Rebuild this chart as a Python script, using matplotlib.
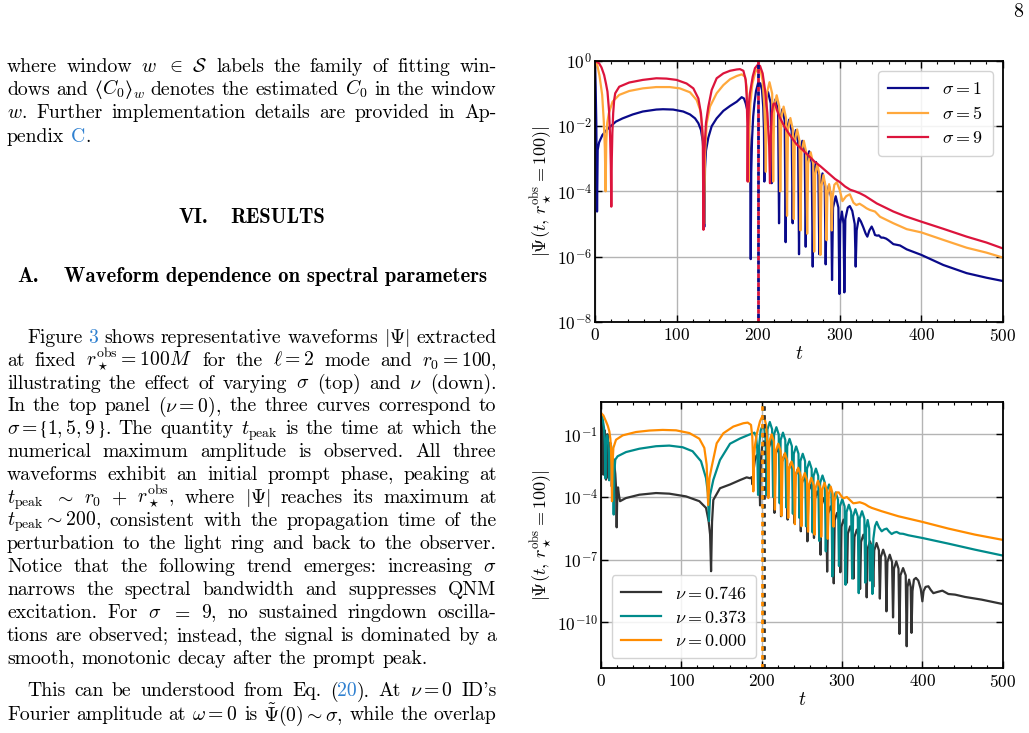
import numpy as np
import matplotlib
matplotlib.use("Agg")
import matplotlib.pyplot as plt
from matplotlib.ticker import MultipleLocator, NullLocator

# ----------------------------------------------------------------- data
# top panel: log10 |Psi|, for sigma = 1, 5, 9
sigma1_t = [0, 0.8, 1.6, 2.5, 3.3, 5.0, 9.1, 15.3, 19.4, 25.6, 33.9, 46.3, 58.6, 75.2, 83.4, 95.8, 108.2, 116.5, 122.7, 126.8,
            130.0, 132.2, 133.4, 134.0, 134.9, 136.1, 139.0, 143.1, 149.2, 157.4, 165.6, 173.8, 179.9, 182.7, 184.8, 186.5, 188.0, 189.3, 190.4, 191.0,
            191.6, 192.6, 194.0, 195.5, 197.5, 200.3, 202.8, 204.8, 206.3, 207.2, 207.7,
            208.9, 212.2, 215.5, 216.7, 217.9, 221.2, 224.5, 225.7, 226.9, 229.8, 232.6, 233.8, 235.0, 238.1, 241.2, 242.4,
            243.6, 246.3, 249.0, 250.2, 251.4, 254.3, 257.2, 258.4, 259.6, 262.7, 265.8, 267.0, 268.2, 271.0, 273.9, 275.1,
            276.3, 279.0, 281.7, 282.9, 284.1, 286.8, 289.5, 290.7, 291.9, 295.2, 298.5, 299.7, 300.7, 302.8, 304.8, 305.8,
            307.0, 310.0, 312.5, 315.5, 318.5, 319.7, 320.9, 323.5, 326.0, 329.0, 332.0, 334.0, 336.5, 339.3, 341.5, 343.4,
            346.0, 348.0, 351.0, 353.6, 357.0, 360.0, 365.9, 374.0, 382.3, 400.2, 427.2, 455.8, 480.0, 500.0]
sigma1_log = [0.0, -0.8, -1.9, -4.62, -2.73, -2.5, -2.27, -2.09, -2.0, -1.86, -1.76, -1.64, -1.55, -1.49, -1.48, -1.49, -1.55, -1.64, -1.76, -1.91,
              -2.12, -2.47, -2.95, -5.09, -3.3, -2.75, -2.35, -2.0, -1.76, -1.53, -1.38, -1.25, -1.11, -1.15, -1.30, -1.48, -1.81, -2.42, -3.3, -6.08,
              -3.45, -2.4, -1.7, -1.3, -0.92, -0.65, -0.69, -0.89, -1.40, -2.1, -3.70,
              -1.30, -0.95, -1.30, -3.75, -1.53, -1.18, -1.53, -4.98, -1.83, -1.48, -1.83, -5.56, -2.15, -1.80, -2.15, -4.98,
              -2.47, -2.12, -2.47, -5.93, -2.80, -2.45, -2.80, -5.70, -3.12, -2.77, -3.12, -6.31, -3.45, -3.10, -3.45, -5.93,
              -3.80, -3.45, -3.80, -6.24, -4.17, -3.82, -4.17, -6.72, -4.50, -4.15, -4.50, -7.15, -5.0, -4.62, -5.0, -7.10,
              -4.85, -4.50, -4.45, -4.6, -5.0, -6.31, -5.2, -4.82, -4.92, -5.1, -5.30, -5.39, -5.2, -5.08, -5.2, -5.34,
              -5.36, -5.35, -5.42, -5.42, -5.45, -5.50, -5.62, -5.66, -5.78, -5.95, -6.26, -6.51, -6.65, -6.75]

sigma5_t = [0, 3.0, 5.5, 8.8, 10.8, 12.1, 13.0, 13.8, 15.0, 17.0, 21.5, 29.7, 42.0, 58.6, 75.0, 91.7, 104.0, 116.5, 124.7, 128.9,
            131.3, 133.0, 133.8, 134.8, 137.0, 141.0, 149.2, 157.4, 165.6, 173.8, 179.9, 184.0, 186.0, 187.2, 188.0, 188.5, 189.2, 190.5, 193.0, 196.5,
            200.0, 203.0, 205.5, 207.5, 208.8, 209.5,
            210.7, 214.0, 217.3, 218.5, 219.7, 222.8, 226.0, 227.2, 228.4, 231.3, 234.3, 235.5, 236.7, 239.6, 242.6, 243.8,
            245.0, 247.9, 250.8, 252.0, 253.2, 256.1, 259.0, 260.2, 261.4, 264.5, 267.6, 268.8, 270.0, 272.6, 275.3, 276.5,
            277.7, 280.2, 282.8, 284.0, 285.0, 287.1, 289.3, 290.3,
            291.3, 293.5, 296.5, 300.0, 303.5, 308.0, 312.5, 317.0, 320.5, 324.5, 329.0, 333.0, 337.0, 343.4, 349.6, 366.0,
            382.3, 400.2, 427.2, 455.8, 480.0, 500.0]
sigma5_log = [0.0, -0.15, -0.45, -1.04, -1.86, -2.68, -4.0, -2.5, -1.9, -1.6, -1.25, -1.04, -0.92, -0.84, -0.80, -0.80, -0.84, -0.96, -1.20, -1.50,
              -1.96, -2.68, -5.0, -2.9, -1.91, -1.40, -0.99, -0.74, -0.56, -0.46, -0.41, -0.48, -0.79, -1.4, -2.3, -3.7, -2.2, -1.3, -0.7, -0.35,
              -0.22, -0.28, -0.6, -1.3, -2.2, -3.4,
              -1.0, -0.65, -1.0, -3.7, -1.4, -1.05, -1.4, -4.0, -1.75, -1.40, -1.75, -4.75, -2.10, -1.75, -2.10, -4.85,
              -2.45, -2.10, -2.45, -5.2, -2.80, -2.45, -2.80, -5.3, -3.15, -2.80, -3.15, -5.85, -3.50, -3.15, -3.50, -5.95,
              -3.85, -3.50, -3.85, -5.5, -4.1, -3.78, -4.1, -5.2,
              -4.2, -3.80, -3.72, -3.95, -4.30, -4.15, -4.09, -4.35, -4.42, -4.38, -4.45, -4.52, -4.57, -4.62, -4.78, -4.98,
              -5.16, -5.26, -5.49, -5.73, -5.88, -6.03]

sigma9_t = [0, 5.0, 8.0, 11.2, 13.5, 15.3, 17.3, 18.6, 19.4, 20.0, 20.6, 21.3, 22.3, 23.5, 24.8, 29.7, 42.0, 58.6, 75.2, 87.6,
            100.0, 112.3, 120.6, 126.8, 130.0, 132.2, 133.0, 133.8, 136.1, 139.0, 143.1, 149.2, 157.4, 165.6, 173.8, 177.8, 182.0, 184.8, 186.0, 186.8,
            187.2, 187.8, 188.8, 190.0, 193.4, 196.2, 199.5, 202.4, 205.6, 208.5, 211.4, 213.6, 214.6, 215.5, 216.8, 218.7, 220.8, 223.0, 227.0, 232.0,
            237.0, 241.2, 247.0, 253.5, 261.6, 269.8, 276.0, 282.0, 288.0, 294.4, 300.5, 306.6, 313.0, 319.0, 325.0, 331.2, 345.5, 366.0, 380.0, 400.2,
            427.2, 455.8, 480.0, 500.0]
sigma9_log = [0.0, -0.07, -0.2, -0.43, -0.7, -0.94, -1.55, -2.37, -3.2, -4.47, -3.0, -2.2, -1.6, -1.2, -0.99, -0.79, -0.66, -0.58, -0.53, -0.54,
              -0.58, -0.69, -0.84, -1.15, -1.61, -2.37, -5.18, -2.9, -1.9, -1.4, -0.89, -0.53, -0.38, -0.30, -0.26, -0.25, -0.30, -0.58, -1.09, -1.91,
              -3.70, -2.0, -1.3, -0.99, -0.48, -0.22, -0.12, -0.15, -0.38, -0.89, -1.6, -2.6, -3.75, -2.4, -1.6, -1.32, -1.30, -1.50, -1.75, -2.0,
              -2.2, -2.35, -2.55, -2.70, -2.90, -3.10, -3.22, -3.35, -3.48, -3.62, -3.72, -3.85, -3.95, -4.0, -4.06, -4.14, -4.37, -4.62, -4.76, -4.93,
              -5.15, -5.39, -5.57, -5.75]

# bottom panel: log10 |Psi| for nu = 0.746, 0.373, 0.000
nu746_t = [0, 1.5, 2.3, 2.9, 3.5, 4.4, 5.4, 6.2, 7.0, 7.9, 8.8, 9.5, 10.3, 11.5, 12.7, 13.5, 14.4, 16.0, 17.8, 18.8,
           19.5, 20.2, 21.2, 22.3, 23.7, 31.0, 47.7, 68.5, 85.0, 105.8, 122.4, 130.7, 134.0, 135.8, 137.0, 138.2, 139.8, 148.1, 160.6, 173.0,
           181.3, 185.5, 187.6, 188.6, 190.0, 192.0, 194.0, 195.8, 197.0, 198.0, 199.0, 200.5, 203.0, 205.5, 206.7, 207.7,
           208.9, 211.8, 214.7, 215.9, 217.1, 220.0, 222.9, 224.1, 225.3, 228.2, 231.1, 232.3, 233.5, 236.4, 239.3, 240.5,
           241.7, 244.6, 247.5, 248.7, 249.9, 252.8, 255.7, 256.9, 258.1, 261.0, 263.9, 265.1, 266.3, 269.2, 272.1, 273.3,
           274.5, 277.4, 280.3, 281.5, 282.7, 285.6, 288.5, 289.7, 290.9, 293.8, 296.7, 297.9, 299.1, 302.0, 304.9, 306.1,
           307.3, 310.2, 313.1, 314.3, 315.5, 318.4, 321.3, 322.5, 323.7, 326.6, 329.5, 330.7, 331.9, 334.8, 337.7, 338.9,
           340.1, 343.0, 345.9, 347.1, 348.3, 351.2, 354.1, 355.3, 356.5, 359.4, 362.3, 363.5, 364.7, 367.5, 370.3, 371.5,
           372.7, 376.0, 379.3, 380.5, 381.5, 383.5, 385.5, 386.5,
           387.7, 389.5, 392.0, 395.0, 398.0, 400.0, 401.5, 404.0, 407.5, 410.5, 413.7, 418.0, 424.9, 432.4, 440.7, 453.1, 473.9, 500.0]
nu746_log = [0.0, -0.35, -1.2, -2.93, -1.2, -0.8, -1.3, -3.17, -1.4, -1.0, -1.4, -3.1, -1.7, -1.4, -1.9, -3.5, -2.4, -2.2, -2.9, -3.6,
             -5.45, -4.0, -3.54, -3.9, -4.2, -4.05, -3.89, -3.81, -3.84, -3.97, -4.2, -4.52, -5.16, -5.8, -7.55, -5.2, -4.14, -3.58, -3.4, -3.19,
             -3.06, -3.1, -3.05, -3.4, -2.7, -2.1, -2.0, -2.3, -2.9, -4.4, -2.2, -1.6, -1.33, -1.6, -2.2, -4.0,
             -1.65, -1.30, -1.65, -4.76, -2.00, -1.65, -2.00, -4.92, -2.32, -1.97, -2.32, -5.08, -2.72, -2.37, -2.72, -5.24,
             -3.04, -2.69, -3.04, -5.64, -3.35, -3.00, -3.35, -6.12, -3.76, -3.41, -3.76, -5.96, -4.08, -3.73, -4.08, -6.76,
             -4.40, -4.05, -4.40, -7.57, -4.80, -4.45, -4.80, -8.13, -5.11, -4.76, -5.11, -7.6, -5.43, -5.08, -5.43, -8.1,
             -5.75, -5.40, -5.75, -7.9, -5.91, -5.56, -5.91, -8.4, -6.15, -5.80, -6.15, -8.8, -6.47, -6.12, -6.47, -8.3,
             -6.55, -6.20, -6.55, -8.86, -6.87, -6.52, -6.87, -9.47, -7.11, -6.76, -7.11, -9.76, -7.43, -7.08, -7.43, -10.55,
             -7.75, -7.40, -7.75, -11.14, -8.3, -7.95, -8.3, -10.5,
             -8.5, -7.95, -7.87, -8.0, -8.4, -8.99, -8.5, -8.3, -8.27, -8.45, -8.6, -8.55, -8.48, -8.64, -8.67, -8.78, -8.91, -9.12]

nu373_t = [0, 2.0, 3.8, 4.8, 5.4, 6.1, 7.6, 9.0, 9.7, 10.2, 10.9, 12.6, 14.3, 15.1, 15.8, 16.6, 17.8, 20.7, 31.1, 47.7,
           68.5, 85.0, 101.7, 114.0, 124.5, 130.7, 133.0, 134.4, 135.8, 139.8, 148.1, 160.6, 173.0, 185.5, 191.0, 193.0, 194.5, 195.5, 196.7, 198.8,
           201.0, 203.3, 205.0, 206.0,
           207.2, 210.1, 213.0, 214.2, 215.4, 218.3, 221.2, 222.4, 223.6, 226.5, 229.4, 230.6, 231.8, 234.7, 237.6, 238.8,
           240.0, 242.9, 245.8, 247.0, 248.2, 251.1, 254.0, 255.2, 256.4, 259.3, 262.2, 263.4, 264.6, 267.5, 270.4, 271.6,
           272.8, 275.7, 278.6, 279.8, 281.0, 283.9, 286.8, 288.0, 289.2, 292.1, 295.0, 296.2, 297.4, 300.3, 303.2, 304.4,
           305.6, 308.5, 311.4, 312.6, 313.8, 316.7, 319.6, 320.8, 322.0, 324.9, 327.8, 329.0, 330.0, 331.9, 333.8, 334.8,
           335.6, 336.3, 337.0, 337.8,
           339.0, 341.0, 343.2, 346.0, 349.4, 352.5, 355.6, 358.5, 361.8, 365.0, 368.0, 372.0, 376.0, 382.6, 400.0, 432.4, 465.6, 500.0]
nu373_log = [-0.02, -0.25, -0.7, -1.5, -3.1, -1.5, -1.05, -1.4, -2.0, -3.2, -2.0, -1.55, -2.0, -2.8, -4.84, -2.8, -2.21, -2.05, -1.85, -1.69,
             -1.57, -1.54, -1.62, -1.81, -2.29, -3.09, -3.8, -5.15, -3.9, -3.18, -2.23, -1.45, -1.2, -1.0, -0.92, -1.1, -1.7, -3.9, -1.6, -0.8,
             -0.6, -0.75, -1.3, -3.9,
             -0.76, -0.41, -0.76, -4.0, -1.01, -0.66, -1.01, -4.3, -1.27, -0.92, -1.27, -4.5, -1.57, -1.22, -1.57, -4.8,
             -1.93, -1.58, -1.93, -5.0, -2.28, -1.93, -2.28, -5.4, -2.65, -2.30, -2.65, -5.7, -2.99, -2.64, -2.99, -6.1,
             -3.32, -2.97, -3.32, -6.6, -3.75, -3.40, -3.75, -7.8, -4.13, -3.78, -4.13, -7.3, -4.45, -4.10, -4.45, -8.2,
             -4.72, -4.37, -4.72, -7.9, -4.93, -4.58, -4.93, -8.6, -5.03, -4.68, -5.03, -8.1, -5.5, -5.1, -5.5, -8.0,
             -6.6, -6.3, -6.6, -8.64,
             -6.0, -5.4, -5.19, -5.45, -5.64, -5.55, -5.51, -5.65, -5.77, -5.7, -5.67, -5.75, -5.76, -5.83, -5.96, -6.23, -6.52, -6.80]

nu000_t = [0, 3.0, 6.2, 8.5, 10.4, 11.6, 12.4, 13.1, 13.7, 14.4, 15.4, 18.7, 27.0, 43.6, 60.2, 76.8, 93.4, 110.0, 122.4, 128.6,
           131.5, 133.4, 135.0, 137.8, 144.0, 152.3, 164.7, 177.2, 182.6, 186.7, 188.3, 189.1, 189.6, 190.3, 191.8, 193.8, 197.9, 200.8, 203.3, 205.4,
           207.0, 207.8, 208.3,
           209.5, 212.4, 215.3, 216.5, 217.7, 220.6, 223.6, 224.8, 226.0, 228.9, 231.8, 233.0, 234.2, 237.1, 240.1, 241.3,
           242.5, 245.4, 248.3, 249.5, 250.7, 253.6, 256.5, 257.7, 258.9, 261.8, 264.7, 265.9, 267.1, 270.0, 272.9, 274.1,
           275.3, 278.2, 281.1, 282.3, 283.5, 285.9, 288.4, 289.5,
           290.6, 293.0, 296.0, 299.0, 301.7, 306.0, 310.0, 314.0, 318.0, 322.0, 326.0, 329.0, 333.0, 337.0, 349.4, 370.1,
           400.0, 432.4, 465.6, 500.0]
nu000_log = [0.02, -0.1, -0.38, -0.6, -0.86, -1.2, -1.65, -2.6, -4.2, -2.4, -1.65, -1.26, -1.05, -0.89, -0.82, -0.79, -0.81, -0.94, -1.21, -1.65,
             -2.45, -4.38, -3.1, -2.55, -1.43, -0.95, -0.63, -0.47, -0.44, -0.55, -1.1, -2.0, -3.73, -2.2, -1.5, -1.0, -0.38, -0.14, -0.19, -0.54,
             -1.4, -2.4, -4.05,
             -1.35, -1.0, -1.35, -4.6, -1.8, -1.45, -1.8, -4.9, -2.25, -1.9, -2.25, -5.0, -2.65, -2.3, -2.65, -5.3,
             -2.95, -2.6, -2.95, -5.4, -3.2, -2.85, -3.2, -5.66, -3.43, -3.08, -3.43, -5.8, -3.57, -3.22, -3.57, -5.9,
             -3.67, -3.32, -3.67, -6.0, -3.85, -3.5, -3.85, -5.42,
             -4.2, -3.78, -3.78, -3.95, -4.06, -4.0, -4.15, -4.30, -4.28, -4.25, -4.30, -4.35, -4.45, -4.52, -4.68, -4.92,
             -5.19, -5.51, -5.80, -6.05]

top_labels = [r"$\sigma=1$", r"$\sigma=5$", r"$\sigma=9$"]
top_colors = ["#0a0a8a", "#ffa83c", "#dc143c"]
top_tpeak = [200.3, 200.3, 200.3]
bot_labels = [r"$\nu=0.746$", r"$\nu=0.373$", r"$\nu=0.000$"]
bot_colors = ["#333333", "#008b8b", "#ff8c00"]
bot_tpeak = [203.3, 202.0, 200.6]
top_yticks = [1e0, 1e-2, 1e-4, 1e-6, 1e-8]
bot_yticks = [1e-1, 1e-4, 1e-7, 1e-10]

# ----------------------------------------------------------------- style
plt.rcParams.update({
    "font.family": "serif",
    "font.serif": ["cmr10"],
    "mathtext.fontset": "cm",
    "axes.unicode_minus": False,
    "axes.formatter.use_mathtext": True,
})

W, H = 1029, 733
fig = plt.figure(figsize=(W / 100, H / 100), dpi=100)
renderer = fig.canvas.get_renderer()
FS = 14.2
HFS = 14.9
BLUE = "#2f80d0"
K = "black"
STIX = {"family": "STIXGeneral"}
SUBW = {"size": FS * 0.72, "dy": 3.2}


def fx(x):
    return x / W


def fy(y):
    return 1 - y / H


def seg_list(tok):
    if isinstance(tok, str):
        return [(tok, K, {})]
    return [(s[0], s[1], s[2] if len(s) > 2 else {}) for s in tok]


def make_text(x, y, s, color, extra, base_kw):
    kw = dict(base_kw)
    size = extra.get("size", kw.pop("size", FS))
    kw.pop("size", None)
    if "family" in extra:
        kw["family"] = extra["family"]
    return fig.text(fx(x), fy(y + extra.get("dy", 0)), s, fontsize=size, color=color,
                    ha="left", va="baseline", **kw)


def tok_width(tok, **kw):
    w = 0
    for s, c, ex in seg_list(tok):
        t = make_text(0, 0, s, c, ex, kw)
        w += t.get_window_extent(renderer).width
        t.remove()
    return w


def put_line(tokens, y, x0, x1=None, justify=True, **kw):
    widths = [tok_width(t, **kw) for t in tokens]
    if justify and x1 is not None and len(tokens) > 1:
        gap = max(3.0, (x1 - x0 - sum(widths)) / (len(tokens) - 1))
    else:
        gap = 6.6
    x = x0
    for tok, w in zip(tokens, widths):
        xx = x
        for s, c, ex in seg_list(tok):
            t = make_text(xx, y, s, c, ex, kw)
            xx += t.get_window_extent(renderer).width
        x += w + gap


L, R = 7, 496.5
para1 = [
    ["where", "window", r"$w$", r"$\in$", r"$\mathcal{S}$", "labels", "the", "family", "of", "fitting", "win-"],
    ["dows", "and", [("\u27e8", K, STIX), (r"$C_0$", K), ("\u27e9", K, STIX), (r"$w$", K, SUBW)],
     "denotes", "the", "estimated", r"$C_0$", "in", "the", "window"],
    [r"$w$.", "Further", "implementation", "details", "are", "provided", "in", "Ap-"],
    ["pendix", [("C", BLUE), (".", K)]],
]
y = 71.7
for i, line in enumerate(para1):
    put_line(line, y, L, R, justify=(i < len(para1) - 1))
    y += 23.3

# headings
wa = tok_width("VI.", size=HFS, family="cmb10")
wb = tok_width("RESULTS", size=HFS, family="cmb10")
xs = 251.7 - (wa + 22 + wb) / 2
fig.text(fx(xs), fy(223.3), "VI.", family="cmb10", fontsize=HFS, va="baseline")
fig.text(fx(xs + wa + 22), fy(223.3), "RESULTS", family="cmb10", fontsize=HFS, va="baseline")
fig.text(fx(17), fy(282.5), "A.", family="cmb10", fontsize=HFS, va="baseline")
fig.text(fx(487), fy(282.5), "Waveform dependence on spectral parameters", family="cmb10",
         fontsize=HFS, va="baseline", ha="right")

para2 = [
    ["Figure", [("3", BLUE)], "shows", "representative", "waveforms", r"$|\Psi|$", "extracted"],
    ["at", "fixed", r"$r_\star^{\rm obs}=100M$", "for", "the", r"$\ell=2$", "mode", "and", r"$r_0=100$,"],
    ["illustrating", "the", "effect", "of", "varying", r"$\sigma$", "(top)", "and", r"$\nu$", "(down)."],
    ["In", "the", "top", "panel", r"($\nu=0$),", "the", "three", "curves", "correspond", "to"],
    [[(r"$\sigma=$", K), ("{", K, STIX), (r"$1,5,9$", K), ("}", K, STIX), (".", K)],
     "The", "quantity", r"$t_{\rm peak}$", "is", "the", "time", "at", "which", "the"],
    ["numerical", "maximum", "amplitude", "is", "observed.", "All", "three"],
    ["waveforms", "exhibit", "an", "initial", "prompt", "phase,", "peaking", "at"],
    [r"$t_{\rm peak}$", r"$\sim$", r"$r_0$", r"$+$", r"$r_\star^{\rm obs}$,", "where", r"$|\Psi|$", "reaches", "its", "maximum", "at"],
    [r"$t_{\rm peak}\sim200$,", "consistent", "with", "the", "propagation", "time", "of", "the"],
    ["perturbation", "to", "the", "light", "ring", "and", "back", "to", "the", "observer."],
    ["Notice", "that", "the", "following", "trend", "emerges:", "increasing", r"$\sigma$"],
    ["narrows", "the", "spectral", "bandwidth", "and", "suppresses", "QNM"],
    ["excitation.", "For", r"$\sigma$", r"$=$", r"$9$,", "no", "sustained", "ringdown", "oscilla-"],
    ["tions", "are", "observed;", "instead,", "the", "signal", "is", "dominated", "by", "a"],
    ["smooth,", "monotonic", "decay", "after", "the", "prompt", "peak."],
]
y = 342.7
for i, line in enumerate(para2):
    put_line(line, y, 27 if i == 0 else L, R, justify=(i < len(para2) - 1))
    y += 22.93

para3 = [
    ["This", "can", "be", "understood", "from", "Eq.", [("(", K), ("20", BLUE), (").", K)], "At", r"$\nu=0$", "ID's"],
    ["Fourier", "amplitude", "at", r"$\omega=0$", "is", r"$\tilde\Psi(0)\sim\sigma$,", "while", "the", "overlap"],
]
put_line(para3[0], 696.5, 27, R)
put_line(para3[1], 720.5, L, R)

fig.text(fx(1018), fy(17), "8", fontsize=FS, ha="center", va="baseline")

# ----------------------------------------------------------------- axes


def style_axes(ax, yticks, ylim):
    ax.set_yscale("log")
    ax.set_xlim(0, 500)
    ax.set_ylim(*ylim)
    ax.set_yticks(yticks)
    ax.yaxis.set_minor_locator(NullLocator())
    ax.xaxis.set_major_locator(MultipleLocator(100))
    ax.xaxis.set_minor_locator(MultipleLocator(20))
    ax.tick_params(which="both", direction="in", top=True, right=True, labelsize=12.5)
    ax.tick_params(axis="y", which="major", pad=2)
    ax.tick_params(which="major", length=5, width=1)
    ax.tick_params(which="minor", length=2.5, width=0.8)
    ax.grid(True, which="major", color="#b4b4b4", lw=1.0)
    ax.set_axisbelow(True)
    for s in ax.spines.values():
        s.set_linewidth(1.3)
    ax.set_xlabel(r"$t$", fontsize=14, labelpad=1)
    ax.set_ylabel(r"$|\Psi(t,\,r_\star^{\rm obs}=100)|$", fontsize=13, labelpad=2)


ax1 = fig.add_axes([595 / W, 1 - 321.7 / H, 407.7 / W, 260.7 / H])
for t, lg, c, lab in zip([sigma1_t, sigma5_t, sigma9_t], [sigma1_log, sigma5_log, sigma9_log], top_colors, top_labels):
    ax1.plot(t, 10 ** np.array(lg), color=c, lw=1.6, label=lab)
ax1.axvline(top_tpeak[0], color=top_colors[0], lw=2, linestyle=(1.6, (1.6, 1.6)))
ax1.axvline(top_tpeak[2], color=top_colors[2], lw=2, linestyle=(0, (1.6, 1.6)))
style_axes(ax1, top_yticks, (1e-8, 1e0))
ax1.legend(loc="upper right", bbox_to_anchor=(0.976, 0.962), borderaxespad=0, fontsize=13,
           handlelength=2.2, labelspacing=0.45, borderpad=0.55, fancybox=True, edgecolor="#cccccc", framealpha=0.85)

ax2 = fig.add_axes([601 / W, 1 - 668 / H, 401.7 / W, 266.3 / H])
for t, lg, c, lab in zip([nu746_t, nu373_t, nu000_t], [nu746_log, nu373_log, nu000_log], bot_colors, bot_labels):
    ax2.plot(t, 10 ** np.array(lg), color=c, lw=1.6, label=lab)
ax2.axvline(bot_tpeak[1], color=bot_colors[1], lw=2, linestyle=(0, (1.6, 1.6)))
ax2.axvline(bot_tpeak[0], color=bot_colors[0], lw=2, linestyle=(0, (1.6, 1.6)))
ax2.axvline(bot_tpeak[2], color=bot_colors[2], lw=2, linestyle=(0, (1.6, 1.6)))
style_axes(ax2, bot_yticks, (10 ** -12.18, 10 ** 0.56))
ax2.legend(loc="lower left", bbox_to_anchor=(0.027, 0.0376), borderaxespad=0, fontsize=13,
           handlelength=2.2, labelspacing=0.4, borderpad=0.5, fancybox=True, edgecolor="#cccccc", framealpha=0.85)

fig.savefig("out.png", dpi=100)
